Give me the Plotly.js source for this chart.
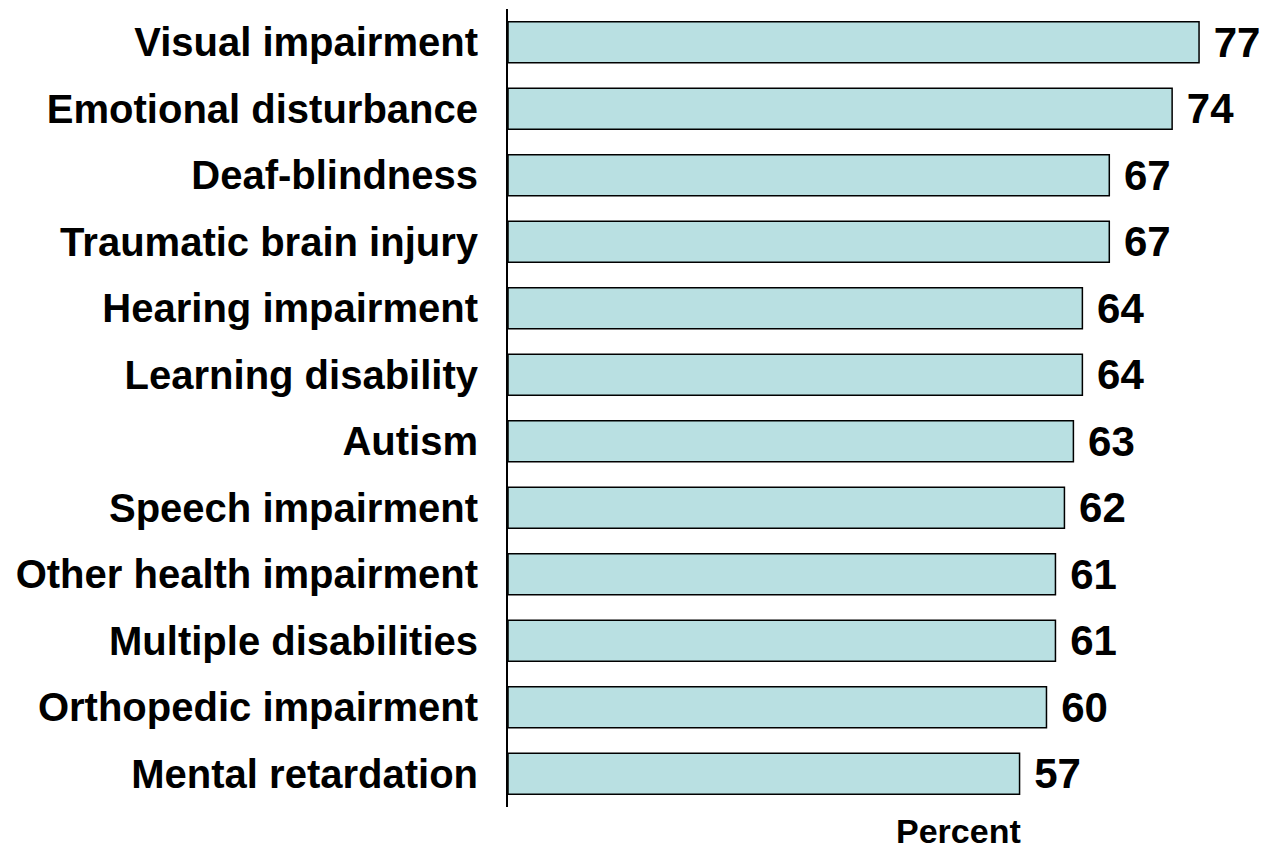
<!DOCTYPE html>
<html>
<head>
<meta charset="utf-8">
<script src="https://cdn.plot.ly/plotly-3.0.1.min.js"></script>
<style>
  html, body { margin: 0; padding: 0; background: #ffffff; }
  #chart { width: 1262px; height: 850px; }
</style>
</head>
<body>
<div id="chart"></div>
<script>
const categories = [
  "Visual impairment",
  "Emotional disturbance",
  "Deaf-blindness",
  "Traumatic brain injury",
  "Hearing impairment",
  "Learning disability",
  "Autism",
  "Speech impairment",
  "Other health impairment",
  "Multiple disabilities",
  "Orthopedic impairment",
  "Mental retardation"
];
const percentValues = [77, 74, 67, 67, 64, 64, 63, 62, 61, 61, 60, 57];
const xAxisTitle = "Percent";

const fontFamily = "Liberation Sans, Arial, Helvetica, sans-serif";

const trace = {
  type: "bar",
  orientation: "h",
  y: categories,
  x: percentValues,
  text: percentValues.map(v => " " + v),
  textposition: "outside",
  constraintext: "none",
  cliponaxis: false,
  textfont: { family: fontFamily, size: 42, color: "#000000", weight: "bold" },
  marker: { color: "#b9e0e2", line: { color: "#000000", width: 1.5 } },
  hoverinfo: "none"
};

const layout = {
  width: 1262,
  height: 850,
  margin: { l: 508, r: 10, t: 9, b: 43 },
  paper_bgcolor: "#ffffff",
  plot_bgcolor: "#ffffff",
  showlegend: false,
  bargap: 0.38,
  xaxis: {
    range: [0, 82.9],
    showgrid: false,
    zeroline: false,
    showticklabels: false,
    ticks: "",
    showline: false
  },
  yaxis: {
    autorange: "reversed",
    showgrid: false,
    zeroline: false,
    ticks: "",
    showline: true,
    linecolor: "#000000",
    linewidth: 2,
    ticklabelstandoff: 20,
    tickfont: { family: fontFamily, size: 40, color: "#000000", weight: "bold" }
  },
  annotations: [{
    text: xAxisTitle,
    xref: "paper",
    yref: "paper",
    x: 0.606,
    y: 0,
    yshift: -24,
    xanchor: "center",
    yanchor: "middle",
    showarrow: false,
    font: { family: fontFamily, size: 34, color: "#000000", weight: "bold" }
  }]
};

Plotly.newPlot("chart", [trace], layout, { displayModeBar: false, staticPlot: true });
</script>
</body>
</html>
